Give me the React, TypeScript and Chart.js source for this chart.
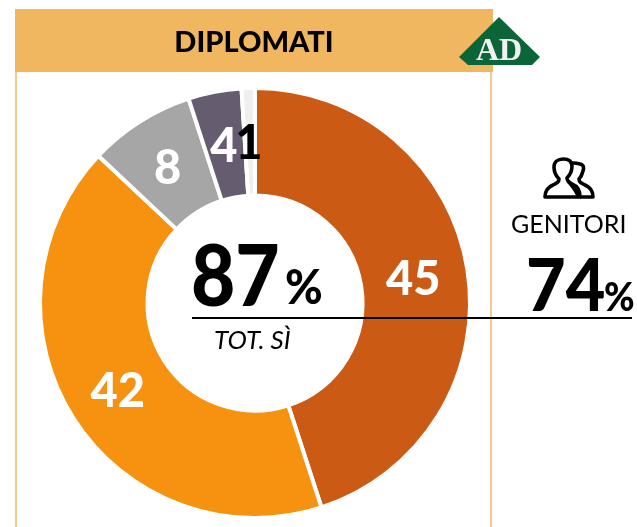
import React, { useEffect, useRef } from "react";
import { Chart, registerables } from "chart.js";

Chart.register(...registerables);

const categories = ["Sì, molto", "Sì, abbastanza", "Poco", "Per niente", "Non sa"];
const values = [45, 42, 8, 4, 1];
const sliceColors = ["#CB5A15", "#F6920F", "#A6A6A6", "#665C70", "#EFEFEF"];
const labelColors = ["#FFFFFF", "#FFFFFF", "#FFFFFF", "#FFFFFF", "#000000"];

const FONT = "Lato, Carlito, sans-serif";

const labelPlugin = {
  id: "sliceLabels",
  afterDatasetsDraw(chart: any) {
    const ctx = chart.ctx;
    const arcs = chart.getDatasetMeta(0).data;
    ctx.save();
    ctx.font = `900 47px ${FONT}`;
    ctx.textAlign = "center";
    ctx.textBaseline = "middle";
    arcs.forEach((arc: any, i: number) => {
      const p = arc.tooltipPosition();
      ctx.fillStyle = labelColors[i];
      ctx.fillText(String(values[i]), p.x - 1, p.y + 2);
    });
    ctx.restore();
  },
};

const abs = (o: React.CSSProperties): React.CSSProperties => ({ position: "absolute", whiteSpace: "nowrap", lineHeight: 1, fontFamily: FONT, color: "#000", ...o });
const squeeze = (k: number): React.CSSProperties => ({ transform: `scaleX(${k})`, transformOrigin: "left top" });

export default function App() {
  const ref = useRef<HTMLCanvasElement>(null);
  useEffect(() => {
    const chart = new Chart(ref.current!, {
      type: "doughnut",
      data: {
        labels: categories,
        datasets: [{ data: values, backgroundColor: sliceColors, borderColor: "#FFFFFF", borderWidth: 4 }],
      },
      options: {
        responsive: false,
        animation: false,
        cutout: "50%",
        layout: { padding: { left: 38, right: 165, top: 86, bottom: 7 } },
        plugins: { legend: { display: false }, tooltip: { enabled: false } },
      },
      plugins: [labelPlugin],
    });
    return () => chart.destroy();
  }, []);

  return (
    <div style={{ position: "fixed", left: 0, top: 0, width: 637, height: 527, background: "#fff", overflow: "hidden" }}>
      <div style={{ position: "absolute", left: 15, top: 9, width: 478, height: 63, background: "#F0B660" }} />
      <div style={{ position: "absolute", left: 15, top: 72, width: 2, height: 455, background: "#F5C98A" }} />
      <div style={{ position: "absolute", left: 490, top: 72, width: 2, height: 455, background: "#F5C98A" }} />
      <canvas ref={ref} width={637} height={527} style={{ position: "absolute", left: 0, top: 0 }} />
      <div style={abs({ left: 15, width: 478, top: 26, textAlign: "center", fontWeight: 900, fontSize: 29 })}>DIPLOMATI</div>
      <svg width={637} height={527} style={{ position: "absolute", left: 0, top: 0 }}>
        <polygon points="499,17 540,57 532,65 468,65 459,57" fill="#0A6638" />
        <text x={499} y={60} textAnchor="middle" fontFamily="Liberation Serif" fontWeight={700} fontSize={32} fill="#F2F2F2">AD</text>
        <g fill="none" stroke="#000" strokeWidth={3.6} strokeLinejoin="round">
          <path d="M545 197 H580 C580 190 577 186 572 184 C568 182 567 180 567 178 C571 174 572 170 572 166 C572 161 568 159 563 159 C558 159 554 162 554 167 C554 172 556 176 559 179 C559 182 557 183 553 185 C548 187 545 191 545 197 Z" />
          <path d="M570 164 C573 162 576 163 580 164 C584 165 584 168 583 171 C582 175 581 177 579 179 C579 182 581 183 585 185 C590 187 593 191 593 197 H580" />
          <path d="M568 181 C572 186 576 190 578 196" />
        </g>
      </svg>
      <div style={abs({ left: 191, top: 231, fontWeight: 900, fontSize: 85, ...squeeze(0.9) })}>87</div>
      <div style={abs({ left: 285, top: 262, fontWeight: 900, fontSize: 48, ...squeeze(0.95) })}>%</div>
      <div style={abs({ left: 192, top: 317, width: 440, height: 1.5, background: "#000" })} />
      <div style={abs({ left: 214, top: 326, fontStyle: "italic", fontSize: 26 })}>TOT. SÌ</div>
      <div style={abs({ left: 511, top: 211, fontSize: 25 })}>GENITORI</div>
      <div style={abs({ left: 526, top: 247, fontWeight: 900, fontSize: 72, ...squeeze(0.95) })}>74</div>
      <div style={abs({ left: 604, top: 277, fontWeight: 900, fontSize: 39, ...squeeze(0.95) })}>%</div>
    </div>
  );
}
